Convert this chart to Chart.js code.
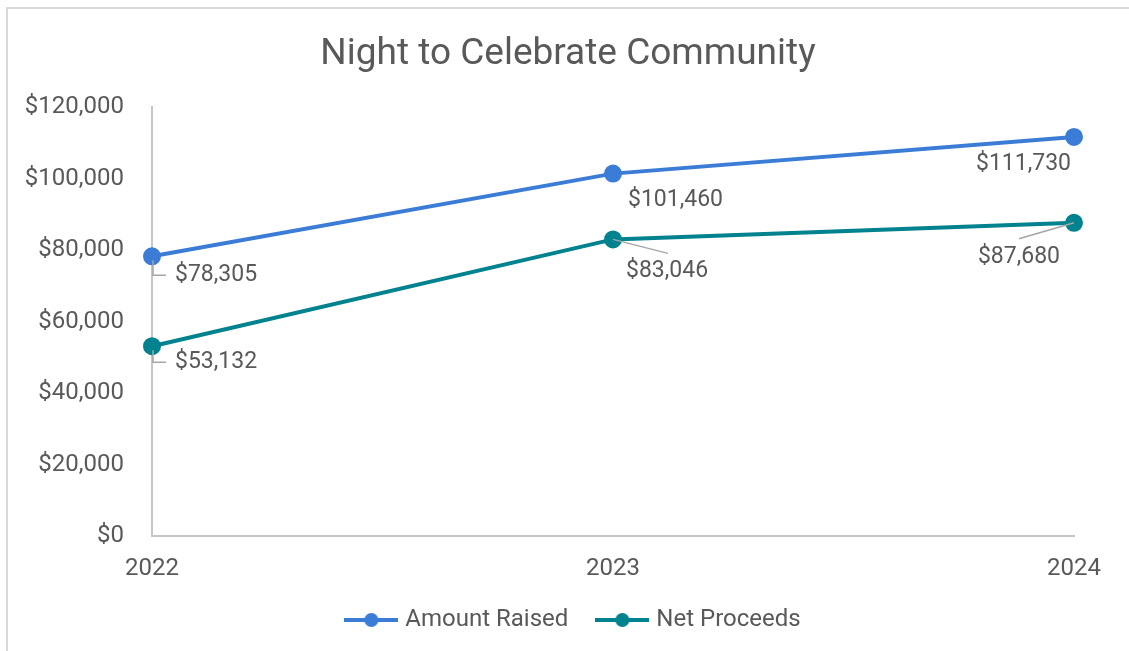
<!DOCTYPE html>
<html>
<head>
<meta charset="utf-8">
<script src="https://cdn.jsdelivr.net/npm/chart.js@4.4.1/dist/chart.umd.min.js"></script>
<style>
    body { margin: 0; background: #fff; overflow: hidden; }
    #frame { position: absolute; left: 6px; top: 7px; width: 1200px; height: 700px; border: 2px solid #d9d9d9; }
    #wrap { position: absolute; left: 0; top: 0; width: 1129px; height: 651px; }
</style>
</head>
<body>
<div id="frame"></div>
<div id="wrap"><canvas id="chart" width="1129" height="651"></canvas></div>
<script>
// Data
const years = ['2022', '2023', '2024'];
const amountRaised = [78305, 101460, 111730];
const netProceeds = [53132, 83046, 87680];
const yTicks = [0, 20000, 40000, 60000, 80000, 100000, 120000];

const blue = '#3b7dd6';
const teal = '#00828f';
const textColor = '#595959';
const axisColor = '#c6c6c6';

const money = v => '$' + v.toLocaleString('en-US');

// Legend marker: line with a dot in the middle
function legendMarker(color) {
    const c = document.createElement('canvas');
    c.width = 54;
    c.height = 16;
    const g = c.getContext('2d');
    g.strokeStyle = color;
    g.lineWidth = 4;
    g.beginPath();
    g.moveTo(0, 8);
    g.lineTo(54, 8);
    g.stroke();
    g.fillStyle = color;
    g.beginPath();
    g.arc(27, 8, 7, 0, Math.PI * 2);
    g.fill();
    return c;
}

// Label placement per dataset/point: [dx, dy, align, leader]
const labelPlacement = [
    [[23, 19, 'left', 'elbow'], [15, 27, 'left', null], [-3, 27, 'right', null]],
    [[23, 16, 'left', 'elbow'], [13, 32, 'left', 'diag'], [-14, 34, 'right', 'diagR']]
];

const dataLabels = {
    id: 'dataLabels',
    afterLayout(chart) {
        // let tick labels spill into the margins without being clipped
        chart.scales.y.left = 0;
        chart.scales.x.bottom = chart.height;
        // legend sits a little right of centre
        chart.legend.left += 7;
        chart.legend.right += 7;
    },
    afterDatasetsDraw(chart) {
        const ctx = chart.ctx;
        ctx.save();
        ctx.font = '23px Roboto';
        ctx.textBaseline = 'middle';
        chart.data.datasets.forEach((ds, di) => {
            chart.getDatasetMeta(di).data.forEach((pt, i) => {
                const [dx, dy, align, leader] = labelPlacement[di][i];
                const tx = pt.x + dx, ty = pt.y + dy;
                ctx.strokeStyle = '#a6a6a6';
                ctx.lineWidth = 1.5;
                if (leader === 'elbow') {
                    ctx.beginPath();
                    ctx.moveTo(pt.x + 1, pt.y + 4);
                    ctx.lineTo(pt.x + 1, ty);
                    ctx.lineTo(tx - 9, ty);
                    ctx.stroke();
                } else if (leader === 'diag') {
                    ctx.beginPath();
                    ctx.moveTo(pt.x, pt.y);
                    ctx.lineTo(pt.x + 55, pt.y + 14);
                    ctx.stroke();
                } else if (leader === 'diagR') {
                    ctx.beginPath();
                    ctx.moveTo(pt.x - 55, pt.y + 16);
                    ctx.lineTo(pt.x, pt.y);
                    ctx.stroke();
                }
                ctx.fillStyle = textColor;
                ctx.textAlign = align;
                ctx.fillText(money(ds.data[i]), tx, ty);
            });
        });
        ctx.restore();
    }
};

const ctx = document.getElementById('chart').getContext('2d');
const chart = new Chart(ctx, {
    type: 'line',
    data: {
        labels: years,
        datasets: [{
            label: 'Amount Raised',
            data: amountRaised,
            borderColor: blue,
            backgroundColor: blue,
            borderWidth: 4,
            pointRadius: 7,
            pointHoverRadius: 7,
            pointStyle: 'circle',
            tension: 0
        }, {
            label: 'Net Proceeds',
            data: netProceeds,
            borderColor: teal,
            backgroundColor: teal,
            borderWidth: 4,
            pointRadius: 7,
            pointHoverRadius: 7,
            pointStyle: 'circle',
            tension: 0
        }]
    },
    options: {
        responsive: false,
        animation: false,
        devicePixelRatio: 1,
        layout: { padding: { left: 62, right: 55, top: 0, bottom: 9 } },
        plugins: {
            title: {
                display: true,
                text: 'Night to Celebrate Community',
                color: textColor,
                font: { family: 'Roboto', size: 37, weight: 'normal' },
                padding: { top: 33, bottom: 30 }
            },
            legend: {
                position: 'bottom',
                labels: {
                    color: textColor,
                    font: { family: 'Roboto', size: 24 },
                    usePointStyle: true,
                    pointStyleWidth: 44,
                    padding: 32,
                    generateLabels(chart) {
                        return chart.data.datasets.map((ds, i) => ({
                            text: ds.label,
                            pointStyle: legendMarker(ds.borderColor),
                            fillStyle: ds.borderColor,
                            strokeStyle: ds.borderColor,
                            lineWidth: 0,
                            fontColor: textColor,
                            datasetIndex: i,
                            hidden: false
                        }));
                    }
                }
            },
            tooltip: { enabled: false }
        },
        scales: {
            x: {
                offset: false,
                grid: { display: false, drawTicks: false },
                border: { display: true, color: axisColor, width: 2 },
                ticks: { color: textColor, font: { family: 'Roboto', size: 24 }, padding: 19, maxRotation: 0 },
                afterFit(scale) { scale.height = 40; }
            },
            y: {
                min: 0,
                max: 120000,
                grid: { display: false, drawTicks: false },
                border: { display: true, color: axisColor, width: 2 },
                afterBuildTicks(scale) { scale.ticks = yTicks.map(v => ({ value: v })); },
                ticks: {
                    color: textColor,
                    font: { family: 'Roboto', size: 24 },
                    padding: 28,
                    callback: v => money(v)
                },
                afterFit(scale) { scale.width = 90; }
            }
        }
    },
    plugins: [dataLabels]
});
</script>
</body>
</html>
